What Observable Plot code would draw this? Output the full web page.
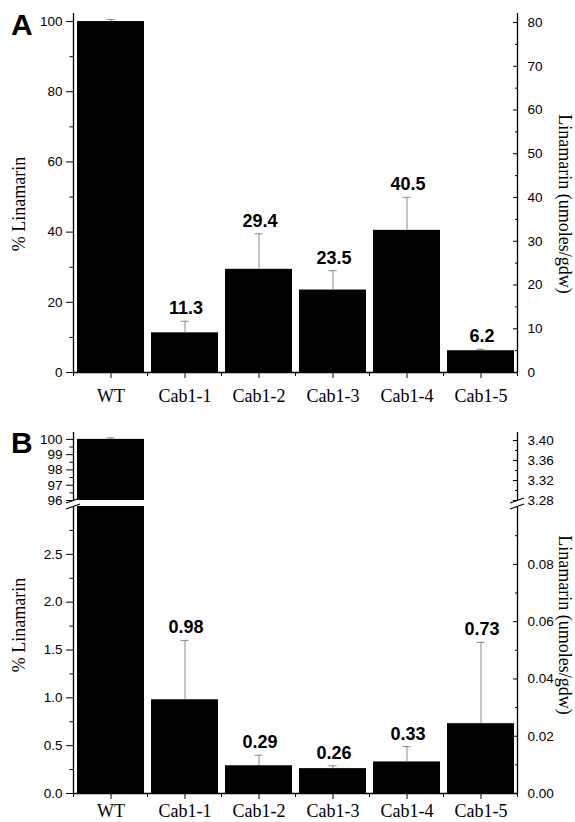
<!DOCTYPE html>
<html><head><meta charset="utf-8">
<script src="https://cdn.jsdelivr.net/npm/d3@7"></script>
<script src="https://cdn.jsdelivr.net/npm/@observablehq/plot@0.6"></script>
<style>
html,body{margin:0;padding:0;background:#fff;}
#root{position:relative;width:575px;height:822px;overflow:hidden;}
.layer{position:absolute;left:0;}
.layer svg{display:block;}
</style></head>
<body><div id="root"></div>
<script>
// ---- data ----
const categories = ["WT", "Cab1-1", "Cab1-2", "Cab1-3", "Cab1-4", "Cab1-5"];
const percentA = [100, 11.3, 29.4, 23.5, 40.5, 6.2];
const errorA   = [0.6, 3.3, 10.1, 5.5, 9.4, 0.4];
const percentB = [100, 0.98, 0.29, 0.26, 0.33, 0.73];
const errorB   = [0.1, 0.62, 0.11, 0.03, 0.16, 0.85];

const leftTicksA  = [0, 20, 40, 60, 80, 100];
const leftMinorA  = [10, 30, 50, 70, 90];
const rightTicksA = [0, 10, 20, 30, 40, 50, 60, 70, 80];
const rightMinorA = [5, 15, 25, 35, 45, 55, 65, 75];

const leftTicksBUpper  = [96, 97, 98, 99, 100];
const leftMinorBUpper  = [96.5, 97.5, 98.5, 99.5];
const leftTicksBLower  = [0, 0.5, 1.0, 1.5, 2.0, 2.5];
const leftMinorBLower  = [0.25, 0.75, 1.25, 1.75, 2.25, 2.75];
const rightTicksBUpper = [3.28, 3.32, 3.36, 3.40];
const rightMinorBUpper = [3.30, 3.34, 3.38];
const rightTicksBLower = [0, 0.02, 0.04, 0.06, 0.08];
const rightMinorBLower = [0.01, 0.03, 0.05, 0.07, 0.09];

const yTitleLeft = "% Linamarin";
const yTitleRight = "Linamarin (umoles/gdw)";

// ---- layout ----
const W = 575, ML = 73, MR = 58;
const sans = "'Liberation Sans', Arial, Helvetica, sans-serif";
const serif = "'Liberation Serif', 'Times New Roman', serif";
const errColor = "#8a8a8a";

const rows = (pct, err) => categories.map((c, i) => ({cat: c, pct: pct[i], err: err[i], top: pct[i] + err[i]}));
const dataA = rows(percentA, errorA);
const dataB = rows(percentB, errorB);

function leftPlot(o) {
  const marks = [
    Plot.barY(o.data, {x: "cat", y: "pct", fill: "black", clip: true}),
    Plot.ruleX(o.data, {x: "cat", y1: "pct", y2: "top", stroke: errColor, strokeWidth: 1, clip: true}),
    Plot.tickY(o.data, {x: "cat", y: "top", stroke: errColor, strokeWidth: 1, insetLeft: 29.5, insetRight: 29.5, clip: true}),
    Plot.axisY(o.ticks, {anchor: "left", tickSize: 7, tickPadding: 4, tickFormat: o.fmt, fontSize: 13.5, fontFamily: sans, fill: "black", stroke: "black", label: null}),
    Plot.axisY(o.minor, {anchor: "left", tickSize: 3.5, tickFormat: () => "", label: null})
  ];
  if (o.labels) marks.push(Plot.text(o.data.filter(d => d.cat !== "WT"), {
    x: "cat", y: "top", text: d => d.pct.toFixed(o.dec), dy: -7, dx: 1, lineAnchor: "bottom",
    fontWeight: "bold", fontSize: 18, fontFamily: sans, fill: "black"
  }));
  if (o.showX) {
    marks.push(Plot.ruleY([o.yDomain[0]], {stroke: "black", strokeWidth: 1.3}));
    marks.push(Plot.axisX({tickSize: 6, tickPadding: o.xPad, fontSize: 18, fontFamily: serif, fill: "black", label: null}));
  }
  return Plot.plot({
    width: W, height: o.height, marginLeft: ML, marginRight: MR, marginTop: o.mt, marginBottom: o.mb,
    x: {type: "band", domain: categories, paddingInner: 0.1, paddingOuter: 0.05, axis: o.showX ? undefined : null},
    y: {domain: o.yDomain},
    style: {background: "transparent", overflow: "visible"},
    marks
  });
}

function rightPlot(o) {
  const marks = [
    Plot.ruleX([0, 6], {stroke: "black", strokeWidth: 1.3}),
    Plot.axisY(o.ticks, {anchor: "right", tickSize: -5, tickPadding: 15, tickFormat: o.fmt, fontSize: 13.5, fontFamily: sans, fill: "black", label: null}),
    Plot.axisY(o.minor, {anchor: "right", tickSize: -3, tickFormat: () => "", label: null})
  ];
  if (o.showX) marks.push(Plot.axisX([0, 1, 2, 3, 4, 5, 6], {tickSize: 4, tickFormat: () => "", label: null}));
  return Plot.plot({
    width: W, height: o.height, marginLeft: ML, marginRight: MR, marginTop: o.mt, marginBottom: o.mb,
    x: {type: "linear", domain: [0, 6], axis: null},
    y: {domain: o.yDomain},
    style: {background: "transparent", overflow: "visible"},
    marks
  });
}

const root = document.getElementById("root");
function place(el, top) {
  const d = document.createElement("div");
  d.className = "layer"; d.style.top = top + "px";
  d.appendChild(el); root.appendChild(d);
  return el;
}

// Panel A
const aTop = 0;
const aOpt = {height: 410, mt: 13, mb: 38};
place(leftPlot({...aOpt, data: dataA, yDomain: [0, 102.3], ticks: leftTicksA, minor: leftMinorA, fmt: d3.format("d"), labels: true, dec: 1, showX: true, xPad: 11}), aTop);
place(rightPlot({...aOpt, yDomain: [0, 82.06], ticks: rightTicksA, minor: rightMinorA, fmt: d3.format("d"), showX: true}), aTop);

// Panel B upper (broken axis)
const bUTop = 420;
const bUOpt = {height: 80, mt: 12, mb: 0};
const bUpper = place(leftPlot({...bUOpt, data: dataB, yDomain: [96, 100.45], ticks: leftTicksBUpper, minor: leftMinorBUpper, fmt: d3.format("d"), labels: false, showX: false}), bUTop);
place(rightPlot({...bUOpt, yDomain: [3.28, 3.416], ticks: rightTicksBUpper, minor: rightMinorBUpper, fmt: d3.format(".2f"), showX: false}), bUTop);

// Panel B lower
const bLTop = 500;
const bLOpt = {height: 322, mt: 6, mb: 29};
const bLower = place(leftPlot({...bLOpt, data: dataB, yDomain: [0, 3.0], ticks: leftTicksBLower, minor: leftMinorBLower, fmt: d3.format(".1f"), labels: true, dec: 2, showX: true, xPad: 5}), bLTop);
place(rightPlot({...bLOpt, yDomain: [0, 0.1002], ticks: rightTicksBLower, minor: rightMinorBLower, fmt: d3.format(".2f"), showX: true}), bLTop);

// ---- annotations: panel letters, titles, axis breaks ----
const svg = d3.select(root).append("svg")
  .attr("width", W).attr("height", 822)
  .style("position", "absolute").style("left", 0).style("top", 0);

svg.append("text").attr("x", 11).attr("y", 35).text("A")
  .attr("font-family", sans).attr("font-weight", "bold").attr("font-size", 30);
svg.append("text").attr("x", 11).attr("y", 453).text("B")
  .attr("font-family", sans).attr("font-weight", "bold").attr("font-size", 30);

function titles(cy) {
  svg.append("text").attr("transform", `translate(25,${cy}) rotate(-90)`)
    .attr("text-anchor", "middle").attr("font-family", serif).attr("font-size", 18).text(yTitleLeft);
  svg.append("text").attr("transform", `translate(559,${cy}) rotate(90)`)
    .attr("text-anchor", "middle").attr("font-family", serif).attr("font-size", 18).text(yTitleRight);
}
titles(204);
titles(625);

const yBreakU = bUTop + bUpper.scale("y").apply(96);
const yBreakL = bLTop + bLower.scale("y").apply(3.0);
for (const xa of [ML, W - MR]) {
  for (const yb of [yBreakU, yBreakL]) {
    svg.append("line")
      .attr("x1", xa - 7).attr("y1", yb + 3)
      .attr("x2", xa + 7).attr("y2", yb - 2)
      .attr("stroke", "black").attr("stroke-width", 1.3);
  }
}
</script>
</body></html>
